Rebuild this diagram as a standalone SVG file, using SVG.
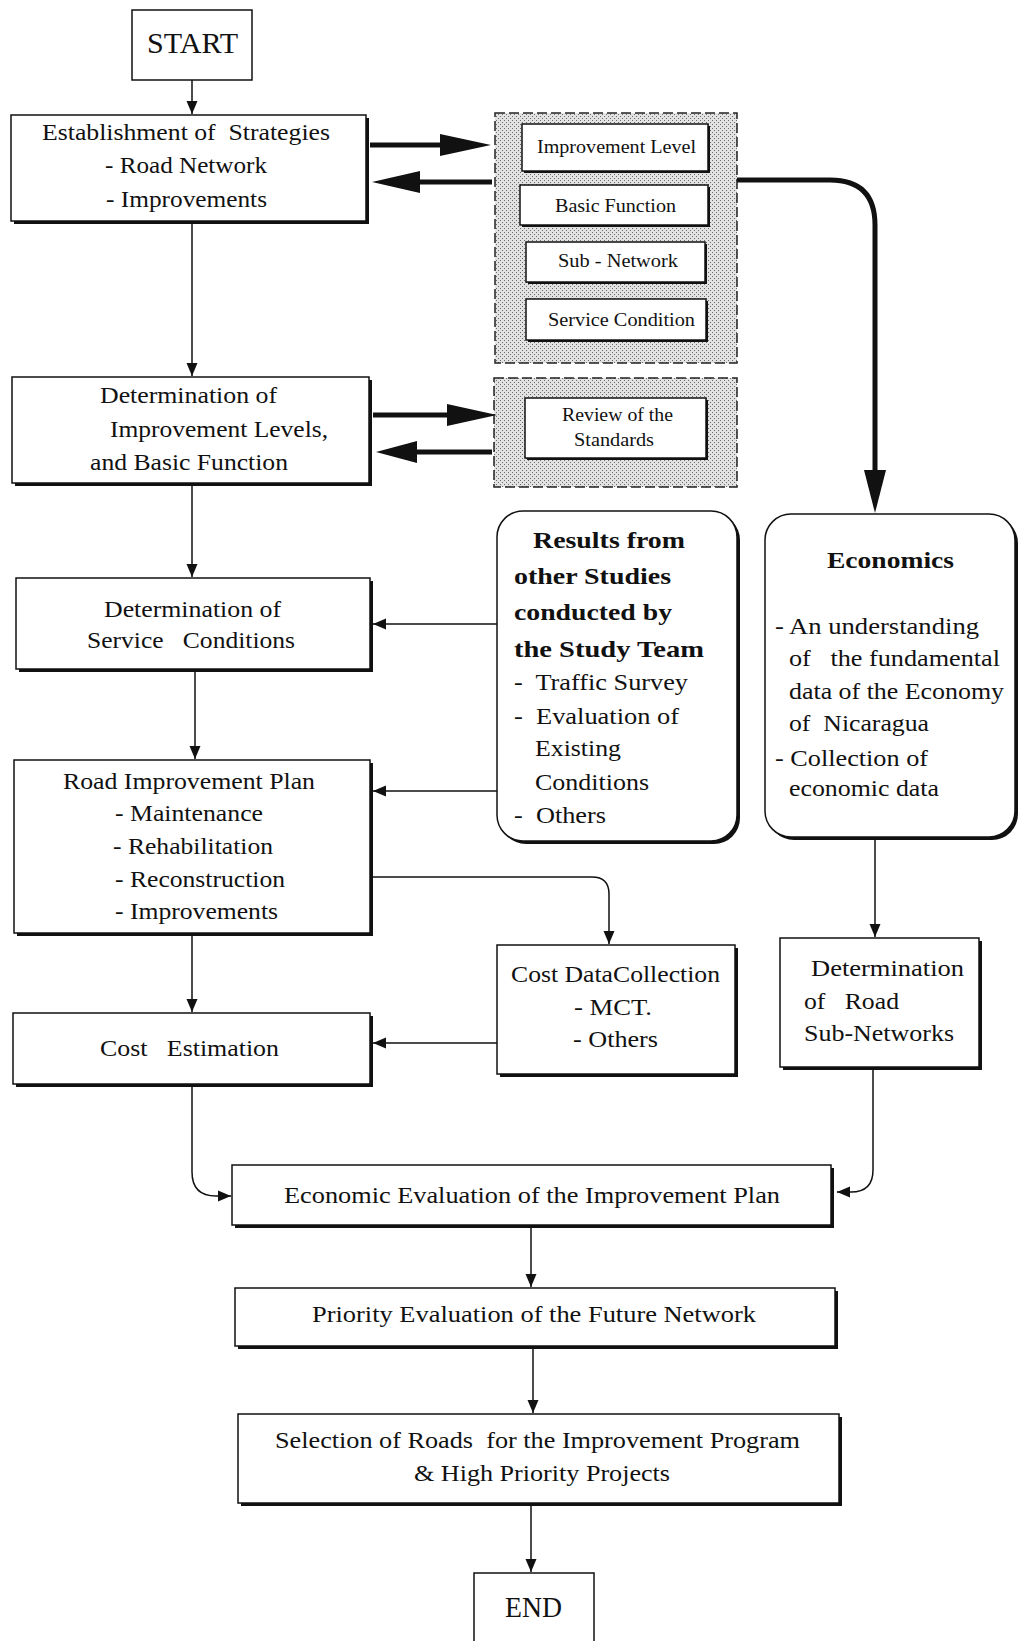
<svg xmlns="http://www.w3.org/2000/svg" width="1018" height="1641" viewBox="0 0 1018 1641">
<style>
  text { font-family: "Liberation Serif", "Times New Roman", serif; fill: #111; white-space: pre; }
  .t { font-size: 24px; }
  .b { font-size: 24px; font-weight: bold; }
  .s { font-size: 19px; }
  .big { font-size: 29px; }
  .box { fill: #fff; stroke: #111; stroke-width: 1.5; }
  .sh { fill: #111; }
  .shade { fill: url(#dots); stroke: #222; stroke-width: 1.5; stroke-dasharray: 10 4; }
  .ln { fill: none; stroke: #111; stroke-width: 1.5; }
  .thick { fill: none; stroke: #111; stroke-width: 5; }
  .head { fill: #111; }
</style>
<defs>
  <pattern id="dots" width="4" height="4" patternUnits="userSpaceOnUse">
    <rect width="4" height="4" fill="#e2e2e2"/>
    <rect width="1" height="1" fill="#6a6a6a"/>
    <rect x="2" y="2" width="1" height="1" fill="#6a6a6a"/>
  </pattern>
  <marker id="arr" markerUnits="userSpaceOnUse" markerWidth="14" markerHeight="14" refX="13" refY="7" orient="auto">
    <path d="M0,1.5 L13,7 L0,12.5 z" fill="#111"/>
  </marker>
</defs>

<rect width="1018" height="1641" fill="#fff"/>

<g id="start">
  <rect class="box" x="132" y="10" width="120" height="70"/>
  <text class="big" x="147" y="53" textLength="91" lengthAdjust="spacingAndGlyphs">START</text>
</g>

<g id="establishment">
  <rect class="sh" x="14" y="118" width="355" height="106"/>
  <rect class="box" x="11" y="115" width="355" height="106"/>
  <text class="t" x="42" y="140" textLength="288" lengthAdjust="spacingAndGlyphs">Establishment of  Strategies</text>
  <text class="t" x="105" y="173" textLength="162" lengthAdjust="spacingAndGlyphs">- Road Network</text>
  <text class="t" x="106" y="207" textLength="161" lengthAdjust="spacingAndGlyphs">- Improvements</text>
</g>

<g id="strategies-items">
  <rect class="shade" x="495" y="113" width="242" height="250"/>
  <rect class="sh" x="524" y="126" width="186" height="47"/>
  <rect class="box" x="522" y="124" width="186" height="47"/>
  <text class="s" x="537" y="153" textLength="159" lengthAdjust="spacingAndGlyphs">Improvement Level</text>
  <rect class="sh" x="522" y="187" width="188" height="40"/>
  <rect class="box" x="520" y="185" width="188" height="40"/>
  <text class="s" x="555" y="212" textLength="121" lengthAdjust="spacingAndGlyphs">Basic Function</text>
  <rect class="sh" x="528" y="244" width="179" height="40"/>
  <rect class="box" x="526" y="242" width="179" height="40"/>
  <text class="s" x="558" y="267" textLength="120" lengthAdjust="spacingAndGlyphs">Sub - Network</text>
  <rect class="sh" x="528" y="301" width="180" height="41"/>
  <rect class="box" x="526" y="299" width="180" height="41"/>
  <text class="s" x="548" y="326" textLength="147" lengthAdjust="spacingAndGlyphs">Service Condition</text>
</g>

<g id="determination-levels">
  <rect class="sh" x="15" y="380" width="357" height="106"/>
  <rect class="box" x="12" y="377" width="357" height="106"/>
  <text class="t" x="100" y="403" textLength="177" lengthAdjust="spacingAndGlyphs">Determination of</text>
  <text class="t" x="110" y="437" textLength="218" lengthAdjust="spacingAndGlyphs">Improvement Levels,</text>
  <text class="t" x="90" y="470" textLength="198" lengthAdjust="spacingAndGlyphs">and Basic Function</text>
</g>

<g id="review-standards">
  <rect class="shade" x="494" y="378" width="243" height="109"/>
  <rect class="sh" x="527" y="400" width="181" height="60"/>
  <rect class="box" x="525" y="398" width="181" height="60"/>
  <text class="s" x="562" y="421" textLength="111" lengthAdjust="spacingAndGlyphs">Review of the</text>
  <text class="s" x="574" y="446" textLength="80" lengthAdjust="spacingAndGlyphs">Standards</text>
</g>

<g id="results-other-studies">
  <rect class="sh" x="500" y="514" width="240" height="330" rx="26"/>
  <rect class="box" x="497" y="511" width="240" height="330" rx="26"/>
  <text class="b" x="533" y="548" textLength="152" lengthAdjust="spacingAndGlyphs">Results from</text>
  <text class="b" x="514" y="584" textLength="157" lengthAdjust="spacingAndGlyphs">other Studies</text>
  <text class="b" x="514" y="620" textLength="158" lengthAdjust="spacingAndGlyphs">conducted by</text>
  <text class="b" x="514" y="657" textLength="190" lengthAdjust="spacingAndGlyphs">the Study Team</text>
  <text class="t" x="514" y="690" textLength="174" lengthAdjust="spacingAndGlyphs">-  Traffic Survey</text>
  <text class="t" x="514" y="724" textLength="165" lengthAdjust="spacingAndGlyphs">-  Evaluation of</text>
  <text class="t" x="535" y="756" textLength="86" lengthAdjust="spacingAndGlyphs">Existing</text>
  <text class="t" x="535" y="790" textLength="114" lengthAdjust="spacingAndGlyphs">Conditions</text>
  <text class="t" x="514" y="823" textLength="92" lengthAdjust="spacingAndGlyphs">-  Others</text>
</g>

<g id="economics">
  <rect class="sh" x="768" y="517" width="250" height="323" rx="26"/>
  <rect class="box" x="765" y="514" width="250" height="323" rx="26"/>
  <text class="b" x="827" y="568" textLength="127" lengthAdjust="spacingAndGlyphs">Economics</text>
  <text class="t" x="775" y="634" textLength="204" lengthAdjust="spacingAndGlyphs">- An understanding</text>
  <text class="t" x="789" y="666" textLength="211" lengthAdjust="spacingAndGlyphs">of   the fundamental</text>
  <text class="t" x="789" y="699" textLength="215" lengthAdjust="spacingAndGlyphs">data of the Economy</text>
  <text class="t" x="789" y="731" textLength="140" lengthAdjust="spacingAndGlyphs">of  Nicaragua</text>
  <text class="t" x="775" y="766" textLength="153" lengthAdjust="spacingAndGlyphs">- Collection of</text>
  <text class="t" x="789" y="796" textLength="150" lengthAdjust="spacingAndGlyphs">economic data</text>
</g>

<g id="service-conditions">
  <rect class="sh" x="19" y="581" width="354" height="91"/>
  <rect class="box" x="16" y="578" width="354" height="91"/>
  <text class="t" x="104" y="617" textLength="177" lengthAdjust="spacingAndGlyphs">Determination of</text>
  <text class="t" x="87" y="648" textLength="208" lengthAdjust="spacingAndGlyphs">Service   Conditions</text>
</g>

<g id="road-improvement-plan">
  <rect class="sh" x="17" y="763" width="356" height="173"/>
  <rect class="box" x="14" y="760" width="356" height="173"/>
  <text class="t" x="63" y="789" textLength="252" lengthAdjust="spacingAndGlyphs">Road Improvement Plan</text>
  <text class="t" x="115" y="821" textLength="148" lengthAdjust="spacingAndGlyphs">- Maintenance</text>
  <text class="t" x="113" y="854" textLength="160" lengthAdjust="spacingAndGlyphs">- Rehabilitation</text>
  <text class="t" x="115" y="887" textLength="170" lengthAdjust="spacingAndGlyphs">- Reconstruction</text>
  <text class="t" x="115" y="919" textLength="163" lengthAdjust="spacingAndGlyphs">- Improvements</text>
</g>

<g id="cost-data-collection">
  <rect class="sh" x="500" y="948" width="238" height="129"/>
  <rect class="box" x="497" y="945" width="238" height="129"/>
  <text class="t" x="511" y="982" textLength="209" lengthAdjust="spacingAndGlyphs">Cost DataCollection</text>
  <text class="t" x="574" y="1015" textLength="78" lengthAdjust="spacingAndGlyphs">- MCT.</text>
  <text class="t" x="573" y="1047" textLength="85" lengthAdjust="spacingAndGlyphs">- Others</text>
</g>

<g id="road-sub-networks">
  <rect class="sh" x="783" y="941" width="199" height="129"/>
  <rect class="box" x="780" y="938" width="199" height="129"/>
  <text class="t" x="811" y="976" textLength="153" lengthAdjust="spacingAndGlyphs">Determination</text>
  <text class="t" x="804" y="1009" textLength="95" lengthAdjust="spacingAndGlyphs">of   Road</text>
  <text class="t" x="804" y="1041" textLength="150" lengthAdjust="spacingAndGlyphs">Sub-Networks</text>
</g>

<g id="cost-estimation">
  <rect class="sh" x="16" y="1016" width="357" height="71"/>
  <rect class="box" x="13" y="1013" width="357" height="71"/>
  <text class="t" x="100" y="1056" textLength="179" lengthAdjust="spacingAndGlyphs">Cost   Estimation</text>
</g>

<g id="economic-evaluation">
  <rect class="sh" x="235" y="1168" width="599" height="60"/>
  <rect class="box" x="232" y="1165" width="599" height="60"/>
  <text class="t" x="284" y="1203" textLength="496" lengthAdjust="spacingAndGlyphs">Economic Evaluation of the Improvement Plan</text>
</g>

<g id="priority-evaluation">
  <rect class="sh" x="238" y="1291" width="600" height="58"/>
  <rect class="box" x="235" y="1288" width="600" height="58"/>
  <text class="t" x="312" y="1322" textLength="444" lengthAdjust="spacingAndGlyphs">Priority Evaluation of the Future Network</text>
</g>

<g id="selection">
  <rect class="sh" x="241" y="1417" width="601" height="89"/>
  <rect class="box" x="238" y="1414" width="601" height="89"/>
  <text class="t" x="275" y="1448" textLength="525" lengthAdjust="spacingAndGlyphs">Selection of Roads  for the Improvement Program</text>
  <text class="t" x="414" y="1481" textLength="256" lengthAdjust="spacingAndGlyphs">&amp; High Priority Projects</text>
</g>

<g id="end">
  <rect class="box" x="474" y="1573" width="120" height="80"/>
  <text class="big" x="505" y="1617" textLength="57" lengthAdjust="spacingAndGlyphs">END</text>
</g>

<g id="connectors">
  <path class="ln" d="M192,80 V114" marker-end="url(#arr)"/>
  <path class="ln" d="M192,224 V376" marker-end="url(#arr)"/>
  <path class="ln" d="M192,486 V577" marker-end="url(#arr)"/>
  <path class="ln" d="M195,672 V759" marker-end="url(#arr)"/>
  <path class="ln" d="M192,936 V1012" marker-end="url(#arr)"/>
  <path class="ln" d="M497,624 H373" marker-end="url(#arr)"/>
  <path class="ln" d="M497,791 H373" marker-end="url(#arr)"/>
  <path class="ln" d="M497,1043 H373" marker-end="url(#arr)"/>
  <path class="ln" d="M373,877 H592 Q609,877 609,894 V944" marker-end="url(#arr)"/>
  <path class="ln" d="M875,840 V937" marker-end="url(#arr)"/>
  <path class="ln" d="M192,1087 V1172 Q192,1196 216,1196 H231" marker-end="url(#arr)"/>
  <path class="ln" d="M873,1070 V1170 Q873,1192 851,1192 H837" marker-end="url(#arr)"/>
  <path class="ln" d="M531,1228 V1287" marker-end="url(#arr)"/>
  <path class="ln" d="M533,1349 V1413" marker-end="url(#arr)"/>
  <path class="ln" d="M531,1506 V1572" marker-end="url(#arr)"/>

  <path class="thick" d="M370,145 H442"/>
  <polygon class="head" points="440,134 491,145 440,156"/>
  <path class="thick" d="M492,182 H418"/>
  <polygon class="head" points="420,171 372,182 420,193"/>
  <path class="thick" d="M373,415 H449"/>
  <polygon class="head" points="447,404 497,415 447,426"/>
  <path class="thick" d="M492,452 H415"/>
  <polygon class="head" points="417,441 376,452 417,463"/>

  <path class="thick" d="M737,180 H830 Q875,180 875,225 V472"/>
  <polygon class="head" points="864,470 886,470 875,513"/>
</g>
</svg>
